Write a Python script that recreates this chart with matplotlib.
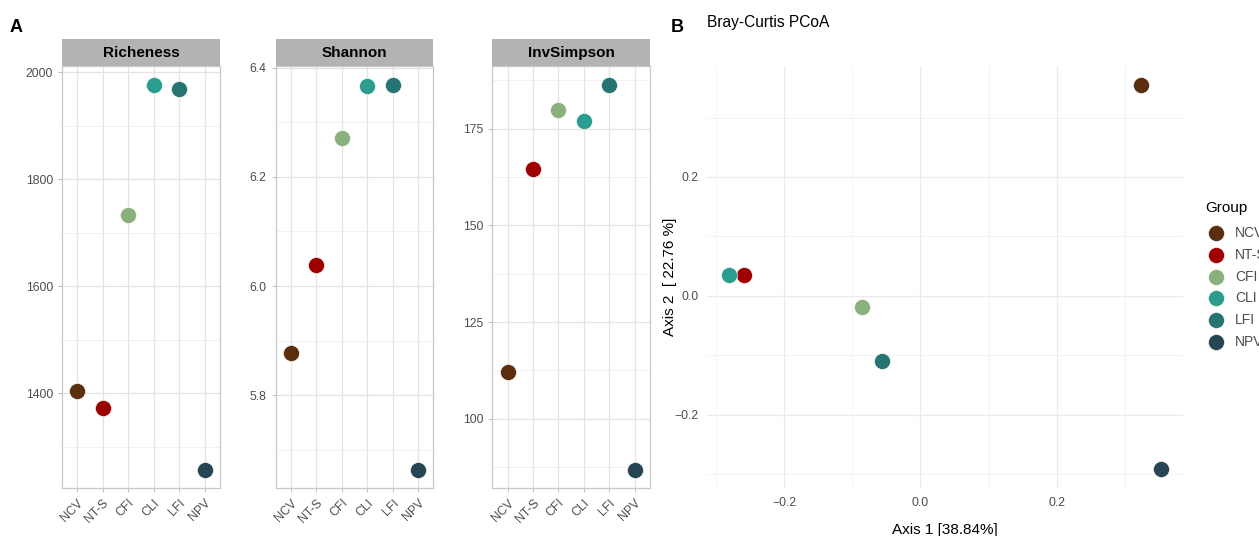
import matplotlib
matplotlib.use("Agg")
import matplotlib.pyplot as plt
from matplotlib.lines import Line2D

plt.rcParams['font.family'] = ['Liberation Sans', 'DejaVu Sans']

# Groups and their colours
groups = ["NCV", "NT-S", "CFI", "CLI", "LFI", "NPV"]
colors = ["#5A2E0E", "#9E0000", "#8AB17D", "#2A9D8F", "#277572", "#264653"]

# Alpha diversity per group
richness = [1405, 1372, 1733, 1976, 1968, 1257]
shannon = [5.877, 6.038, 6.271, 6.367, 6.368, 5.663]
invsimpson = [112.2, 164.6, 179.8, 177.0, 186.3, 86.7]

# PCoA coordinates (Bray-Curtis)
axis1 = [0.323, -0.259, -0.0853, -0.281, -0.056, 0.353]
axis2 = [0.355, 0.035, -0.0195, 0.035, -0.110, -0.292]

W, H = 1259, 536
fig = plt.figure(figsize=(W / 100, H / 100), dpi=100)

def frac(x0, y0, x1, y1):
    return [x0 / W, 1 - y1 / H, (x1 - x0) / W, (y1 - y0) / H]

tick_col = "#4D4D4D"
msize = 11.5

alpha_panels = [
    ("Richeness", richness, (62, 220), (1223, 2011.8), [1400, 1600, 1800, 2000], [1300, 1500, 1700, 1900], "{:.0f}"),
    ("Shannon", shannon, (275.7, 433.3), (5.630, 6.403), [5.8, 6.0, 6.2, 6.4], [5.7, 5.9, 6.1, 6.3], "{:.1f}"),
    ("InvSimpson", invsimpson, (492.3, 650), (82.1, 191.2), [100, 125, 150, 175], [87.5, 112.5, 137.5, 162.5, 187.5], "{:.0f}"),
]

xs = list(range(len(groups)))
for title, vals, (x0, x1), ylim, majors, minors, fmt in alpha_panels:
    ax = fig.add_axes(frac(x0, 66, x1, 488))
    ax.set_xlim(-0.6, len(groups) - 1 + 0.6)
    ax.set_ylim(*ylim)
    for v in minors:
        ax.axhline(v, color="#EFEFEF", lw=0.6, zorder=0)
    for v in majors:
        ax.axhline(v, color="#E3E3E3", lw=0.9, zorder=0)
    for x in xs:
        ax.axvline(x, color="#E3E3E3", lw=0.9, zorder=0)
    for x, v, c in zip(xs, vals, colors):
        ax.plot(x, v, "o", ms=msize, color=c, mec="white", mew=0.4, zorder=3)
    ax.set_xticks(xs)
    ax.set_xticklabels(groups, rotation=45, ha="right", rotation_mode="anchor")
    ax.set_yticks(majors)
    ax.set_yticklabels([fmt.format(v) for v in majors])
    ax.tick_params(colors="#B3B3B3", labelcolor=tick_col, labelsize=8.8, length=3, width=0.6)
    for s in ax.spines.values():
        s.set_color("#C8C8C8")
        s.set_linewidth(0.9)
    # strip header
    sax = fig.add_axes(frac(x0, 39, x1, 66))
    sax.set_facecolor("#B3B3B3")
    sax.set_xticks([]); sax.set_yticks([])
    for s in sax.spines.values():
        s.set_visible(False)
    sax.text(0.5, 0.48, title, ha="center", va="center", fontsize=11, fontweight="bold", color="black",
             transform=sax.transAxes)

fig.text(10 / W, 1 - 28 / H, "A", fontsize=13, fontweight="bold", va="center", ha="left")
fig.text(671 / W, 1 - 28 / H, "B", fontsize=13, fontweight="bold", va="center", ha="left")

# PCoA panel
bx = fig.add_axes(frac(706.7, 66, 1183, 488.3))
bx.set_xlim(-0.3135, 0.385)
bx.set_ylim(-0.324, 0.3867)
for v in [-0.3, -0.1, 0.1, 0.3]:
    bx.axvline(v, color="#F3F3F3", lw=0.7, zorder=0)
    bx.axhline(v, color="#F3F3F3", lw=0.7, zorder=0)
for v in [-0.2, 0.0, 0.2]:
    bx.axvline(v, color="#EBEBEB", lw=1.0, zorder=0)
    bx.axhline(v, color="#EBEBEB", lw=1.0, zorder=0)
for x, y, c in zip(axis1, axis2, colors):
    bx.plot(x, y, "o", ms=msize, color=c, mec="white", mew=0.4, zorder=3)
bx.set_xticks([-0.2, 0.0, 0.2])
bx.set_xticklabels(["\u22120.2", "0.0", "0.2"])
bx.set_yticks([-0.2, 0.0, 0.2])
bx.set_yticklabels(["\u22120.2", "0.0", "0.2"])
bx.tick_params(axis="y", length=0, labelcolor=tick_col, labelsize=8.8, pad=6)
bx.tick_params(axis="x", length=0, labelcolor=tick_col, labelsize=8.8, pad=6)
for s in bx.spines.values():
    s.set_visible(False)
bx.set_xlabel("Axis 1 [38.84%]", fontsize=11)
bx.set_ylabel("Axis 2  [ 22.76 %]", fontsize=11)
bx.xaxis.set_label_coords(0.5, -(530 - 488.3) / (488.3 - 66), transform=bx.transAxes)
bx.xaxis.label.set_va("center")
bx.yaxis.set_label_coords(-(706.7 - 670) / (1183 - 706.7), 0.5, transform=bx.transAxes)
bx.yaxis.label.set_va("center")
fig.text(707 / W, 1 - 22 / H, "Bray-Curtis PCoA", fontsize=11.2, va="center", ha="left")

# Legend
fig.text(1205 / W, 1 - 208 / H, "Group", fontsize=11, va="center", ha="left")
for i, (g, c) in enumerate(zip(groups, colors)):
    yy = 1 - (233.3 + i * 21.7) / H
    fig.add_artist(Line2D([1215.7 / W], [yy], marker="o", ms=msize, color=c, mec="white", mew=0.4,
                          transform=fig.transFigure))
    fig.text(1235 / W, yy, g, fontsize=10, color=tick_col, va="center", ha="left")

fig.savefig("out.png", dpi=100)
